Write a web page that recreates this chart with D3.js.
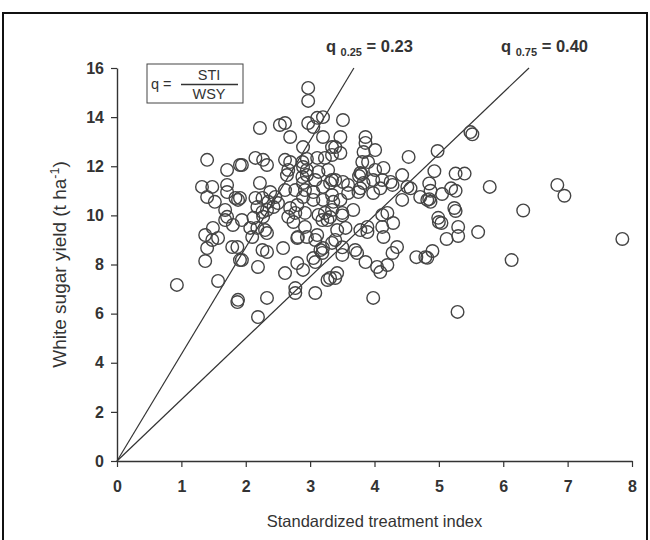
<!DOCTYPE html>
<html>
<head>
<meta charset="utf-8">
<script src="https://cdn.jsdelivr.net/npm/d3@7"></script>
<style>
  body { margin: 0; background: #fff; }
  svg { display: block; }
</style>
</head>
<body>
<svg id="chart"></svg>
<script>
// Standardized treatment index (STI) vs white sugar yield (WSY)
const sti = [
  0.93, 1.37, 1.37, 1.40, 1.48, 1.49, 1.57, 1.57, 1.68, 1.79, 1.80, 1.87, 1.91,
  1.40, 1.71, 1.91, 1.32, 1.48, 1.71, 1.71, 1.40, 1.52, 1.84, 1.88, 1.68, 1.71,
  1.94, 2.12, 2.27, 2.07, 2.18, 2.30, 2.33, 2.10, 1.87, 2.26, 2.33, 1.94, 2.19,
  2.58, 2.66, 2.74, 2.92, 2.81, 2.80, 2.95, 3.08, 3.11, 3.19, 3.27, 3.16, 3.19,
  3.20, 3.05, 3.08, 2.80, 2.61, 2.89, 3.27, 2.77, 2.77, 3.08, 1.88, 2.33, 2.19, 3.39,
  3.31, 3.50, 3.42, 3.55, 3.39, 3.34, 3.50, 3.50, 3.70, 3.73, 3.89, 3.78, 3.89,
  4.12, 4.14, 4.29, 3.86, 4.04, 4.09, 4.20, 4.28, 4.35, 4.65, 4.79, 3.42, 3.31, 3.98,
  2.97, 2.97, 2.22, 2.53, 2.61, 2.69, 2.97, 3.11, 3.20, 3.05, 3.20, 2.89, 3.34,
  2.15, 2.27, 2.33, 1.94, 2.61, 2.69, 2.88, 2.95, 3.11, 3.23, 2.66, 2.89, 2.95,
  3.13, 3.28, 2.88, 2.95, 3.08, 2.64, 2.22, 3.20, 3.34, 2.89, 2.92, 2.89, 3.05,
  2.77, 3.05, 3.20, 3.34, 3.36, 1.91, 2.15, 2.26, 2.38, 2.46, 2.61, 2.35, 2.50,
  2.18, 2.26, 2.33, 2.43, 2.69, 2.80, 2.77, 2.92, 3.13, 3.23, 3.34,
  3.51, 3.47, 3.39, 3.47, 3.34, 3.86, 3.86, 3.83, 4.01, 4.53, 3.81, 3.90, 3.78,
  3.80, 3.76, 4.01, 4.14, 3.39, 3.51, 3.59, 3.31, 3.83, 3.98, 4.12, 4.25, 4.28,
  4.43, 4.51, 4.56, 3.78, 3.75, 3.98, 4.09, 3.47, 3.59, 4.43, 4.71, 4.82, 3.50,
  3.67, 4.20, 4.12,
  5.49, 5.52, 4.98, 4.93, 5.26, 5.40, 4.85, 5.19, 5.26, 5.05, 5.79, 4.87, 4.85,
  4.87, 5.24, 5.26, 6.31, 4.99, 6.84, 6.95, 5.00, 5.04, 5.30, 5.30, 5.61, 5.12,
  4.90, 4.82, 6.13, 5.29, 7.85
];
const wsy = [
  7.17, 9.20, 8.14, 8.67, 9.00, 9.49, 9.08, 7.33, 9.81, 8.71, 9.61, 6.47, 8.18,
  12.26, 11.85, 12.05, 11.16, 11.16, 11.24, 10.95, 10.75, 10.55, 10.71, 10.63, 10.22, 9.94,
  9.81, 9.90, 9.94, 9.49, 9.49, 9.40, 9.28, 9.12, 8.71, 8.59, 8.51, 8.18, 7.90,
  8.67, 9.94, 9.73, 9.53, 9.12, 9.08, 9.12, 9.00, 9.20, 9.81, 9.81, 8.59, 8.47,
  8.67, 8.26, 8.10, 8.06, 7.65, 7.78, 7.37, 7.04, 6.84, 6.84, 6.56, 6.64, 5.86, 7.45,
  9.93, 10.00, 9.40, 9.49, 9.00, 8.88, 8.70, 8.39, 8.59, 8.47, 9.53, 9.40, 9.32,
  9.53, 9.12, 9.69, 8.10, 7.90, 7.69, 7.98, 8.47, 8.71, 8.30, 8.30, 7.65, 7.45, 6.64,
  15.19, 14.66, 13.56, 13.68, 13.76, 13.19, 13.76, 13.97, 14.00, 13.60, 13.19, 12.78, 12.78,
  12.34, 12.26, 12.05, 12.05, 12.26, 12.17, 12.17, 12.30, 12.34, 12.34, 11.85, 11.97, 11.85,
  11.77, 11.85, 11.56, 11.64, 11.44, 11.64, 11.32, 11.16, 11.44, 11.32, 11.03, 10.75, 10.95,
  11.03, 10.63, 10.63, 10.83, 10.55, 10.71, 10.71, 10.71, 10.95, 10.75, 11.03, 10.55, 10.50,
  10.34, 10.14, 10.22, 10.34, 10.30, 10.42, 10.10, 10.10, 10.02, 10.10, 10.22,
  13.88, 13.19, 12.78, 12.54, 12.46, 13.19, 12.95, 12.58, 12.66, 12.38, 12.17, 12.17, 11.73,
  11.68, 11.60, 11.85, 11.93, 11.44, 11.36, 11.24, 11.32, 11.32, 11.44, 11.44, 11.36, 11.24,
  11.64, 11.16, 11.10, 11.10, 10.95, 10.91, 11.10, 10.63, 10.91, 10.63, 10.75, 10.63, 10.10,
  10.22, 10.10, 10.02,
  13.39, 13.30, 12.62, 11.80, 11.70, 11.70, 11.30, 11.10, 11.00, 10.87, 11.16, 11.00, 10.66,
  10.55, 10.30, 10.18, 10.20, 9.90, 11.24, 10.80, 9.73, 9.69, 9.53, 9.16, 9.32, 9.04,
  8.55, 8.27, 8.18, 6.07, 9.04
];
const points = sti.map((d, i) => ({ sti: d, wsy: wsy[i] }));

// quantile ratio lines q = STI / WSY
const qLines = [
  { sub: '0.25', q: 0.23 },
  { sub: '0.75', q: 0.40 }
];
const xTicks = [0, 1, 2, 3, 4, 5, 6, 7, 8];
const yTicks = [0, 2, 4, 6, 8, 10, 12, 14, 16];

const width = 650, height = 540;
const svg = d3.select('#chart')
  .attr('width', width)
  .attr('height', height)
  .style('font-family', 'Arial, "Liberation Sans", sans-serif');

const x = d3.scaleLinear().domain([0, 8]).range([117, 632]);
const y = d3.scaleLinear().domain([0, 16]).range([461, 68]);

// outer frame
svg.append('rect')
  .attr('x', 3).attr('y', 13)
  .attr('width', 644).attr('height', 540)
  .attr('fill', 'none')
  .attr('stroke', '#111')
  .attr('stroke-width', 2);

// axes
const xAxis = svg.append('g')
  .attr('transform', `translate(0,${y(0)})`)
  .call(d3.axisBottom(x).tickValues(xTicks).tickSize(6).tickPadding(11).tickSizeOuter(0));
const yAxis = svg.append('g')
  .attr('transform', `translate(${x(0)},0)`)
  .call(d3.axisLeft(y).tickValues(yTicks).tickSize(6).tickPadding(7).tickSizeOuter(0));

[xAxis, yAxis].forEach(g => {
  g.select('.domain').attr('stroke', '#333').attr('stroke-width', 1.4);
  g.selectAll('.tick line').attr('stroke', '#333').attr('stroke-width', 1.2);
  g.selectAll('.tick text')
    .attr('fill', '#333')
    .style('font-size', '16px')
    .style('font-weight', 'bold');
});
xAxis.selectAll('.tick text').attr('dy', '0.9em');

// ratio lines
svg.selectAll('line.qline')
  .data(qLines)
  .enter()
  .append('line')
  .attr('class', 'qline')
  .attr('x1', x(0)).attr('y1', y(0))
  .attr('x2', d => x(16 * d.q)).attr('y2', y(16))
  .attr('stroke', '#333')
  .attr('stroke-width', 1.2);

// points
svg.append('g')
  .selectAll('circle')
  .data(points)
  .enter()
  .append('circle')
  .attr('cx', d => x(d.sti))
  .attr('cy', d => y(d.wsy))
  .attr('r', 6.3)
  .attr('fill', 'none')
  .attr('stroke', '#444')
  .attr('stroke-width', 1.4);

// line labels
const lab = svg.selectAll('text.qlab')
  .data(qLines)
  .enter()
  .append('text')
  .attr('class', 'qlab')
  .attr('x', d => x(16 * d.q) - 28)
  .attr('y', 52)
  .attr('fill', '#333')
  .style('font-weight', 'bold')
  .style('font-size', '16.5px');
lab.append('tspan').text('q ');
lab.append('tspan').attr('dy', 4).style('font-size', '11px').text(d => d.sub);
lab.append('tspan').attr('dy', -4).text(d => ' = ' + d.q.toFixed(2));

// formula box
const box = svg.append('g');
box.append('rect')
  .attr('x', 147).attr('y', 64)
  .attr('width', 96).attr('height', 39)
  .attr('fill', '#fff')
  .attr('stroke', '#444')
  .attr('stroke-width', 1);
box.append('text')
  .attr('x', 151).attr('y', 89)
  .attr('fill', '#333').style('font-size', '14.5px')
  .text('q =');
box.append('line')
  .attr('x1', 181).attr('x2', 238)
  .attr('y1', 84.5).attr('y2', 84.5)
  .attr('stroke', '#333').attr('stroke-width', 1.3);
box.append('text')
  .attr('x', 209).attr('y', 80)
  .attr('text-anchor', 'middle')
  .attr('fill', '#333').style('font-size', '14.5px')
  .text('STI');
box.append('text')
  .attr('x', 209).attr('y', 99)
  .attr('text-anchor', 'middle')
  .attr('fill', '#333').style('font-size', '14.5px')
  .text('WSY');

// axis titles
svg.append('text')
  .attr('x', (x(0) + x(8)) / 2)
  .attr('y', 527)
  .attr('text-anchor', 'middle')
  .attr('fill', '#333')
  .style('font-size', '16.5px')
  .text('Standardized treatment index');

const yl = svg.append('text')
  .attr('transform', `translate(66,${(y(0) + y(16)) / 2}) rotate(-90)`)
  .attr('text-anchor', 'middle')
  .attr('fill', '#333')
  .style('font-size', '19px');
yl.append('tspan').text('White sugar yield (t ha');
yl.append('tspan').attr('dy', -7).style('font-size', '12.5px').text('-1');
yl.append('tspan').attr('dy', 7).text(')');
</script>
</body>
</html>
